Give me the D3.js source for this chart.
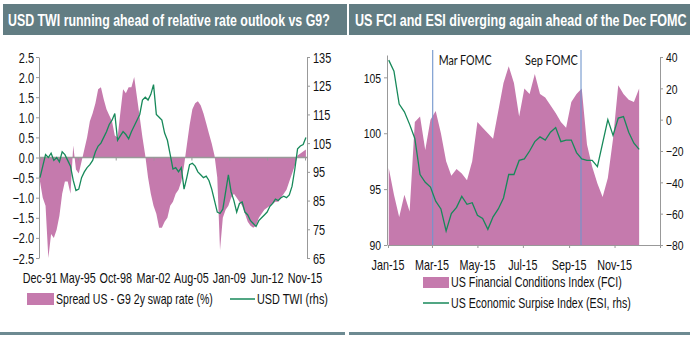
<!DOCTYPE html>
<html>
<head>
<meta charset="utf-8"/>
<script src="https://cdn.jsdelivr.net/npm/d3@7"></script>
<style>
body{margin:0;background:#fff;}
svg{display:block;}
text{font-family:"Liberation Sans",Arial,sans-serif;fill:#111;}
.title{font-weight:bold;fill:#fff;font-size:17px;}
.axis text{fill:#111;}
.axis path,.axis line{stroke:#999;}
.lab{font-family:Lato,"Open Sans",sans-serif;font-size:13px;}
</style>
<script>
// left panel: quarterly from Dec-91
var spreadStart = "1991-12-01";
var spread = [-0.6,-1.0,-1.2,-2.5,-1.9,-2.0,-1.8,-1.45,-0.9,-0.6,-0.6,-0.9,0.3,-0.3,-0.4,-0.1,
  0.2,0.5,0.9,1.1,1.35,1.7,1.75,1.45,1.2,1.05,0.9,0.55,0.5,1.1,1.7,1.6,1.75,1.75,2.0,1.5,
  1.0,0.5,0.05,-0.5,-0.9,-1.2,-1.4,-1.75,-1.75,-1.6,-1.5,-1.2,-1.1,-0.9,-0.8,-0.6,-0.2,0.3,
  0.8,1.2,1.35,1.4,1.3,1.1,0.85,0.6,0.35,0.05,-0.5,-2.3,-1.5,-1.3,-1.2,-1.0,-0.9,-1.0,-1.1,
  -1.2,-1.4,-1.6,-1.7,-1.75,-1.7,-1.5,-1.4,-1.3,-1.25,-1.2,-1.15,-1.1,-1.1,-1.0,-0.9,-0.8,
  -0.6,-0.4,-0.2,0.05,0.1,0.15,0.2];
var usdTwi = [93,97,101,100,101.5,99,100,98.5,102,101,99,97,92,88.5,89,93,95,96.5,97.5,99,
  102,104,105,107,109,111.5,113,115.3,106,107.5,109,108,106.5,109,111,113,115,120,121,120,
  122,125.4,115,114,113,108.5,106,101,96,96.5,95,96.5,89,93,97.5,98,97,95,94,93,93.5,92,89,
  85,81,80.5,82,88,94,88,85,81,84,84.5,81,80,78,77,76,78,79,80,81,83,84,85.5,85,86,86.5,86,
  87,90,96,103,104,104.5,107];
var leftTicksL = [-2.5,-2,-1.5,-1,-0.5,0,0.5,1,1.5,2,2.5];
var leftTicksR = [65,75,85,95,105,115,125,135];
var leftDates = ["1991-12-01","1995-05-01","1998-10-01","2002-03-01","2005-08-01","2009-01-01","2012-06-01","2015-11-01"];

// right panel: weekly from 2 Jan 2015
var weekStart = "2015-01-02";
var fci = [96.9,94.5,92.5,94.5,93,101,101.5,98.5,101.2,102,100,97.5,96.2,96.8,96.4,95.8,97.5,
  101,100.5,100,99.5,102,104.5,106,104.5,101.5,104,103.5,105.3,103.5,103.2,102.5,101.8,101,
  100.5,102.8,103.5,104,99,97,95.5,94.3,96,99.5,104.3,103.5,103,102.8,104];
var esi = [38,31,10,5,-3,-12,-35,-40,-43,-52,-57,-71,-60,-56,-49,-54,-53,-61,-63,-70,-62,-57,
  -50,-35,-35,-26,-25,-20,-14,-11,-13,-8,-5,-14,-13,-13,-21,-25,-26,-26,-30,-15,0,-10,1,2,-8,-15,-19];
var fomcDates = ["2015-03-02","2015-09-17"];
var fomcNames = ["Mar FOMC","Sep FOMC"];
var rightTicksL = [90,95,100,105];
var rightTicksR = [-80,-60,-40,-20,0,20,40];
var monthTicks = ["2015-01-01","2015-03-01","2015-05-01","2015-07-01","2015-09-01","2015-11-01"];

var purple = "#c57aad", green = "#17895a", bar = "#627d83";

// squeeze Arial text horizontally (stands in for Arial Narrow)
function squeeze(sel,k){
  sel.each(function(){
    var t = d3.select(this);
    var x = +t.attr("x") || 0, y = +t.attr("y") || 0;
    t.attr("x",0).attr("y",0).attr("transform","translate("+x+","+y+") scale("+k+",1)");
  });
}
function fit(sel,w){
  var n = sel.node().getComputedTextLength();
  squeeze(sel,w/n);
}

function init(){
  var parse = d3.timeParse("%Y-%m-%d");
  var svg = d3.select("body").append("svg").attr("width",690).attr("height",338);

  // title bars + bottom rules
  svg.append("rect").attr("x",3).attr("y",4).attr("width",344).attr("height",31).attr("fill",bar);
  svg.append("rect").attr("x",349).attr("y",4).attr("width",341).attr("height",31).attr("fill",bar);
  fit(svg.append("text").attr("class","title").attr("x",8).attr("y",26).text("USD TWI running ahead of relative rate outlook vs G9?"),322);
  fit(svg.append("text").attr("class","title").attr("x",355).attr("y",26).text("US FCI and ESI diverging again ahead of the Dec FOMC"),332);
  svg.append("rect").attr("x",0).attr("y",332).attr("width",345).attr("height",3).attr("fill","#6d8a92");
  svg.append("rect").attr("x",349).attr("y",332).attr("width",341).attr("height",3).attr("fill","#6d8a92");

  // ---- left chart
  var d0 = parse(spreadStart);
  var ld = spread.map(function(v,i){
    return {date:d3.timeMonth.offset(d0,3*i), s:v, t:usdTwi[i]};
  });
  var x = d3.scaleTime().domain([parse("1991-12-01"),parse("2015-11-01")]).range([40,305]);
  var yl = d3.scaleLinear().domain([-2.5,2.5]).range([258,57]);
  var yr = d3.scaleLinear().domain([65,135]).range([258,57]);

  svg.append("path").datum(ld).attr("fill",purple)
    .attr("d",d3.area().x(function(d){return x(d.date);}).y0(yl(0)).y1(function(d){return yl(d.s);}));

  var fmt = d3.timeFormat("%b-%y");
  var xa = svg.append("g").attr("class","axis").attr("transform","translate(0,"+yl(0)+")")
    .call(d3.axisBottom(x).tickValues(leftDates.map(parse)).tickFormat("").tickSize(3).tickSizeOuter(0));
  xa.select(".domain").attr("d","M40,0H307").attr("stroke","#8a8a8a").attr("stroke-width",1.5);
  squeeze(svg.selectAll(".xlabL").data(leftDates).enter().append("text")
    .attr("x",function(d){return x(parse(d));}).attr("y",283).attr("text-anchor","middle")
    .style("font-size","14px").text(function(d){return fmt(parse(d));}),0.77);

  var ga = svg.append("g").attr("class","axis").attr("transform","translate(39,0)")
    .call(d3.axisLeft(yl).tickValues(leftTicksL).tickFormat(d3.format(".1f")).tickSize(3).tickSizeOuter(0));
  var gb = svg.append("g").attr("class","axis").attr("transform","translate(307,0)")
    .call(d3.axisRight(yr).tickValues(leftTicksR).tickSize(3).tickSizeOuter(0));
  ga.selectAll("text").style("font-size","14px").attr("x",-5).attr("dy","0.36em");
  gb.selectAll("text").style("font-size","14px").attr("x",6).attr("dy","0.36em");
  ga.selectAll("text").attr("transform","scale(0.78,1)").attr("x",-5/0.78);
  gb.selectAll("text").attr("transform","scale(0.78,1)").attr("x",6/0.78);

  svg.append("path").datum(ld).attr("fill","none").attr("stroke",green).attr("stroke-width",1.3)
    .attr("d",d3.line().x(function(d){return x(d.date);}).y(function(d){return yr(d.t);}));

  svg.append("rect").attr("x",27).attr("y",293).attr("width",27).attr("height",12).attr("fill",purple);
  fit(svg.append("text").attr("x",56).attr("y",304).style("font-size","14px").text("Spread US - G9 2y swap rate (%)"),157);
  svg.append("line").attr("x1",230).attr("x2",255).attr("y1",299).attr("y2",299).attr("stroke",green).attr("stroke-width",1.5);
  fit(svg.append("text").attr("x",257).attr("y",304).style("font-size","14px").text("USD TWI (rhs)"),71);

  // ---- right chart
  var w0 = parse(weekStart);
  var rd = fci.map(function(v,i){
    return {date:d3.timeDay.offset(w0,7*i), f:v, e:esi[i]};
  });
  var x2 = d3.scaleTime().domain([parse("2015-01-01"),parse("2016-01-01")]).range([388,660]);
  var y2l = d3.scaleLinear().domain([90,107]).range([245,55]);
  var y2r = d3.scaleLinear().domain([-80,40]).range([245,57]);

  svg.append("path").datum(rd).attr("fill",purple)
    .attr("d",d3.area().x(function(d){return x2(d.date);}).y0(y2l(90)).y1(function(d){return y2l(d.f);}));

  fomcDates.forEach(function(d,i){
    var px = x2(parse(d));
    svg.append("line").attr("x1",px).attr("x2",px).attr("y1",50).attr("y2",245)
      .attr("stroke","#7196cc").attr("stroke-width",1.1);
    fit(svg.append("text").attr("class","lab").attr("x",i==0?px+6:px-56).attr("y",65)
      .text(fomcNames[i]),53);
  });

  svg.append("g").attr("class","axis").attr("transform","translate(0,245)")
    .call(d3.axisBottom(x2).tickValues(monthTicks.map(parse).concat([parse("2016-01-01")])).tickFormat("").tickSize(3).tickSizeOuter(0));
  squeeze(svg.selectAll(".xlabR").data(monthTicks).enter().append("text")
    .attr("x",function(d){return x2(parse(d));}).attr("y",270).attr("text-anchor","middle")
    .style("font-size","14px").text(function(d){return fmt(parse(d));}),0.77);
  var gc = svg.append("g").attr("class","axis").attr("transform","translate(387,0)")
    .call(d3.axisLeft(y2l).tickValues(rightTicksL).tickSize(3).tickSizeOuter(0));
  var gd = svg.append("g").attr("class","axis").attr("transform","translate(660,0)")
    .call(d3.axisRight(y2r).tickValues(rightTicksR).tickSize(3).tickSizeOuter(0));
  gc.selectAll("text").style("font-size","13px").attr("dy","0.36em")
    .attr("transform","scale(0.8,1)").attr("x",-6/0.8);
  gd.selectAll("text").style("font-size","13px").attr("dy","0.36em")
    .attr("transform","scale(0.8,1)").attr("x",6/0.8);

  svg.append("path").datum(rd).attr("fill","none").attr("stroke",green).attr("stroke-width",1.3)
    .attr("d",d3.line().x(function(d){return x2(d.date);}).y(function(d){return y2r(d.e);}));

  svg.append("rect").attr("x",423).attr("y",277).attr("width",26).attr("height",11).attr("fill",purple);
  fit(svg.append("text").attr("x",451).attr("y",287).style("font-size","14px").text("US Financial Conditions Index (FCI)"),171);
  svg.append("line").attr("x1",423).attr("x2",449).attr("y1",303).attr("y2",303).attr("stroke",green).attr("stroke-width",1.5);
  fit(svg.append("text").attr("x",451).attr("y",308).style("font-size","14px").text("US Economic Surpise Index (ESI, rhs)"),180);
}
</script>
</head>
<body onload="init()">
</body>
</html>
